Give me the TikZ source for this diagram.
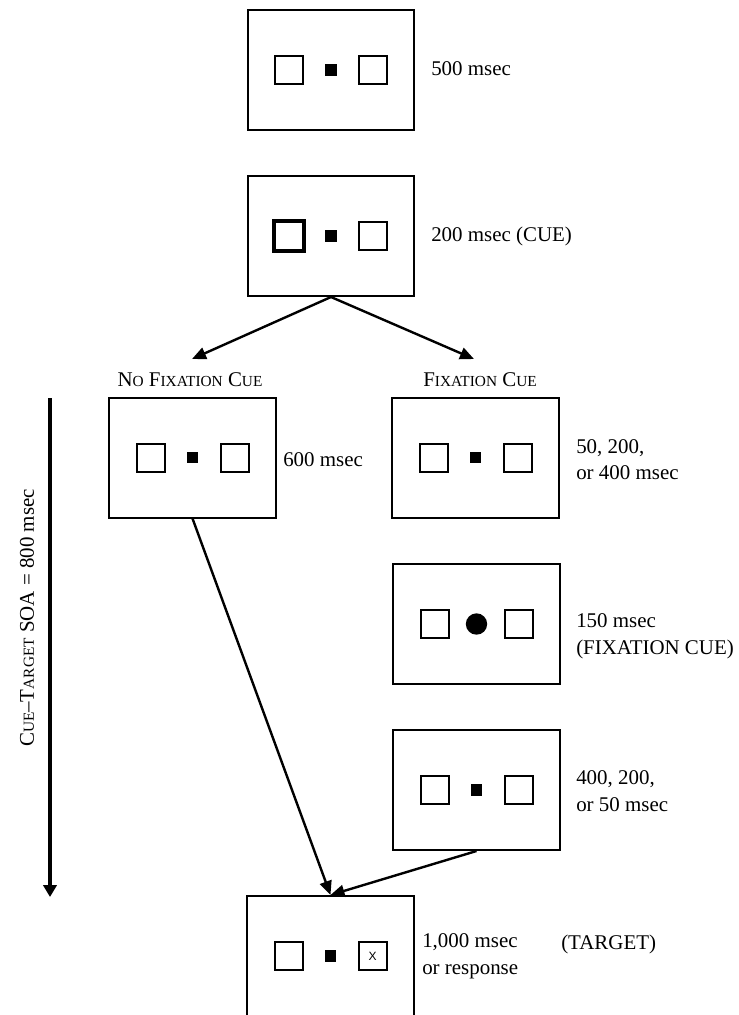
\documentclass[tikz,border=0pt]{standalone}
\usepackage{fontspec}
\setmainfont{Liberation Serif}
\setsansfont{Liberation Sans}
\usetikzlibrary{arrows.meta,positioning}
\newcommand{\smc}[1]{{\fontsize{11.5}{14}\selectfont #1}}

\begin{document}
\begin{tikzpicture}[x=0.75pt,y=-0.75pt,
  screen/.style={draw, line width=1.5pt, minimum width=125pt, minimum height=90pt, inner sep=0pt},
  holder/.style={draw, line width=1.5pt, minimum size=21pt, inner sep=0pt},
  fixdot/.style={fill, minimum size=8.5pt, inner sep=0pt},
  timing/.style={anchor=west, align=left, font=\fontsize{15.7}{20}\selectfont, inner sep=0pt},
  head/.style={anchor=base, font=\fontsize{15.7}{20}\selectfont, inner sep=0pt},
  link/.style={-{Triangle[length=10.5pt,width=9pt]}, line width=1.8pt}]
\useasboundingbox (0,0) rectangle (739,1015);
% screens
\node[screen] (blank) at (331,70) {};
\node[screen] (cue) at (331,236) {};
\node[screen] (nofix) at (192.5,457.5) {};
\node[screen] (fix) at (475.5,457.5) {};
\node[screen] (fixcue) at (476.5,624) {};
\node[screen] (gap) at (476.5,790) {};
\node[screen] (target) at (330.5,956) {};
% placeholders and fixation points
\foreach \s in {blank,cue,nofix,fix,fixcue,gap,target} {
  \node[holder] (\s-l) at ([xshift=-31.5pt]\s.center) {};
  \node[holder] (\s-r) at ([xshift=31.5pt]\s.center) {};
}
\foreach \s in {blank,cue,nofix,fix,gap,target}
  \node[fixdot] (\s-dot) at (\s.center) {};
\node[fixdot, circle, minimum size=16pt] (fixcue-dot) at (fixcue.center) {};
\draw[line width=3pt] (cue-l.south west) rectangle (cue-l.north east);
\node[font=\sffamily\fontsize{9}{10}\selectfont, inner sep=0pt] (target-x) at (target-r) {X};
% timings
\node[timing, anchor=base west] (t-blank) at (431,75) {500 msec};
\node[timing, anchor=base west] (t-cue) at (431,241) {200 msec (CUE)};
\node[timing, anchor=base west] (t-nofix) at (283,466) {600 msec};
\node[timing] (t-fix) at (576,459.5) {50, 200,\\or 400 msec};
\node[timing] (t-fixcue) at (576,636) {150 msec\\(FIXATION CUE)};
\node[timing] (t-gap) at (576,791) {400, 200,\\or 50 msec};
\node[timing] (t-target) at (422,956.5) {1,000 msec\\or response};
\node[timing, anchor=base west] (t-targetname) at (561,949) {(TARGET)};
% conditions
\node[head] (h-nofix) at (190,386) {N\smc{O} F\smc{IXATION} C\smc{UE}};
\node[head] (h-fix) at (480,386) {F\smc{IXATION} C\smc{UE}};
\coordinate (to-nofix) at (192,359);
\coordinate (to-fix) at (474,359);
% arrows
\draw[link] (cue.south) -- (to-nofix);
\draw[link] (cue.south) -- (to-fix);
\draw[link] (nofix.south) -- (target.north);
\draw[link] (gap.south) -- (target.north);
% SOA
\coordinate (soa-top) at (50,398);
\coordinate (soa-end) at (50,897);
\draw[line width=3pt, -{Triangle[length=9pt,width=10pt]}] (soa-top) -- (soa-end);
\node[rotate=90, font=\fontsize{15.7}{20}\selectfont, inner sep=0pt] (soa) at (27,618)
  {C\smc{UE}--T\smc{ARGET} SOA = 800 msec};
\end{tikzpicture}
\end{document}
